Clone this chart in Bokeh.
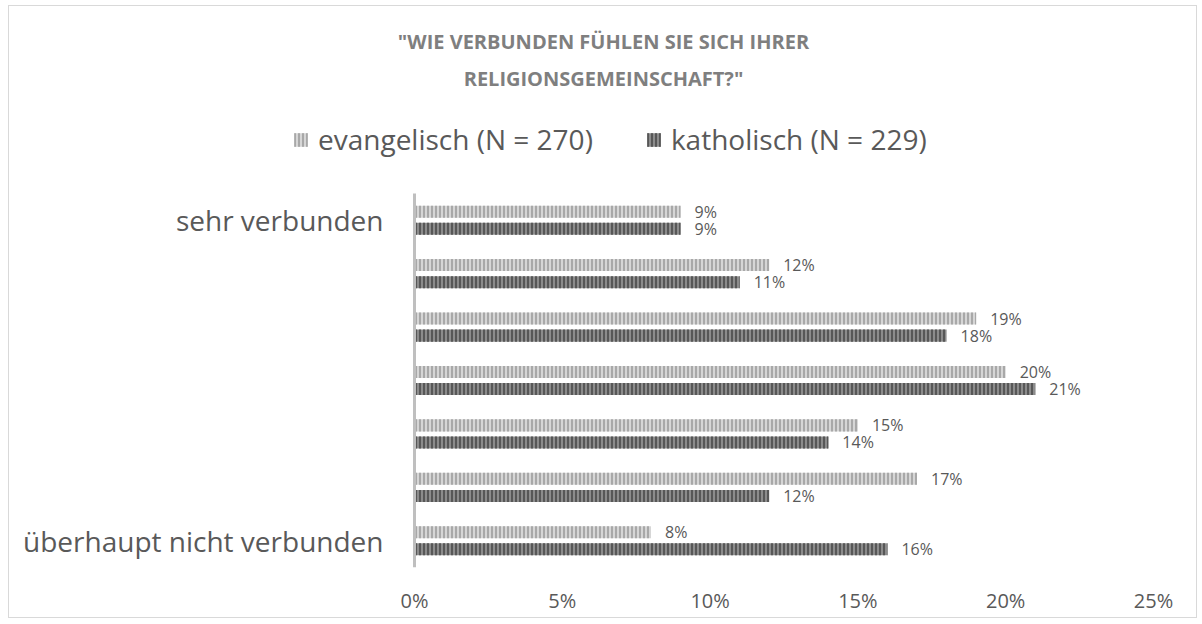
from bokeh.plotting import figure
from bokeh.models import (ColumnDataSource, Range1d, FixedTicker, PrintfTickFormatter,
                          Legend, LegendItem, Title)
from bokeh.transform import dodge
from bokeh.core.properties import value
from bokeh.embed import file_html
from bokeh.resources import INLINE

# ---- data ----
positions = [7, 6, 5, 4, 3, 2, 1]          # scale points, top to bottom
position_labels = {7: "sehr verbunden", 1: "überhaupt nicht verbunden"}
evangelisch = [9, 12, 19, 20, 15, 17, 8]
katholisch = [9, 11, 18, 21, 14, 12, 16]
series_names = ["evangelisch (N = 270)", "katholisch (N = 229)"]
x_ticks = [0, 5, 10, 15, 20, 25]
title_lines = ['"WIE VERBUNDEN FÜHLEN SIE SICH IHRER', 'RELIGIONSGEMEINSCHAFT?"']

FONT = "Open Sans"
TXT = "#595959"

# ---- layout (page pixels) ----
OX, OY = 9, 6                      # content origin (margin + 1px border)
W, H = 1189, 613
FRAME_LEFT = 6 - OX + 6            # frame left edge relative to canvas
FRAME_TOP, FRAME_BOTTOM = 100 - OY, 567 - OY
CAT_TOP = 193 - OY
ZERO_X, MAX_X = 414 - OX, 1153 - OX
x_max = max(x_ticks)
px_per_unit_x = (MAX_X - ZERO_X) / x_max
frame_right = 2 * (603 - OX) - FRAME_LEFT   # keep frame centred on the title centre
x_start = -(ZERO_X - FRAME_LEFT) / px_per_unit_x
x_end = (frame_right - ZERO_X) / px_per_unit_x
y_lo = min(positions) - 0.5
y_hi_cat = max(positions) + 0.5
px_per_unit_y = (FRAME_BOTTOM - CAT_TOP) / (y_hi_cat - y_lo)
y_hi = y_lo + (FRAME_BOTTOM - FRAME_TOP) / px_per_unit_y

src = ColumnDataSource(dict(
    pos=positions,
    ev=evangelisch,
    ka=katholisch,
    ev_lbl=[f"{v}%" for v in evangelisch],
    ka_lbl=[f"{v}%" for v in katholisch],
))

p = figure(width=W, height=H, title=None,
           x_range=Range1d(x_start, x_end), y_range=Range1d(y_lo, y_hi),
           y_axis_location=None,
           output_backend="svg", toolbar_location=None,
           min_border_left=FRAME_LEFT, min_border_right=W - frame_right,
           min_border_bottom=H - FRAME_BOTTOM, min_border_top=FRAME_TOP)
p.styles = {"border": "1px solid #d9d9d9", "margin-left": "8px", "margin-top": "5px"}
p.outline_line_color = None
p.background_fill_color = "white"
p.border_fill_color = "white"
p.xgrid.grid_line_color = None
p.ygrid.grid_line_color = None

off = 0.16
bh = 0.225
r_ev = p.hbar(y=dodge("pos", off), right="ev", left=0, height=bh, source=src,
              fill_color="#d6d6d6", line_color=None,
              hatch_pattern="vertical_line", hatch_color="#a8a8a8",
              hatch_scale=4, hatch_weight=2)
r_ka = p.hbar(y=dodge("pos", -off), right="ka", left=0, height=bh, source=src,
              fill_color="#8c8c8c", line_color=None,
              hatch_pattern="vertical_line", hatch_color="#575757",
              hatch_scale=4, hatch_weight=2)

p.text(x="ev", y=dodge("pos", off), text="ev_lbl", source=src, x_offset=14,
       text_baseline="middle", text_align="left", text_font=value(FONT),
       text_font_size="16px", text_color=TXT)
p.text(x="ka", y=dodge("pos", -off), text="ka_lbl", source=src, x_offset=14,
       text_baseline="middle", text_align="left", text_font=value(FONT),
       text_font_size="16px", text_color=TXT)

# category axis: line at 0 spanning the category band, labels left of it
p.segment(x0=[0], y0=[y_lo], x1=[0], y1=[y_hi_cat], line_color="#bfbfbf", line_width=3)
p.text(x=[0] * len(position_labels), y=list(position_labels.keys()),
       text=list(position_labels.values()), x_offset=-31,
       text_align="right", text_baseline="middle", text_font=value(FONT),
       text_font_size="28px", text_color=TXT)

# x axis
p.xaxis.ticker = FixedTicker(ticks=x_ticks)
p.xaxis.formatter = PrintfTickFormatter(format="%d%%")
p.xaxis.axis_line_color = None
p.xaxis.major_tick_line_color = None
p.xaxis.minor_tick_line_color = None
p.xaxis.major_label_text_font = FONT
p.xaxis.major_label_text_font_size = "20px"
p.xaxis.major_label_text_color = TXT
p.xaxis.major_label_standoff = 13

legend = Legend(items=[LegendItem(label=series_names[0], renderers=[r_ev]),
                       LegendItem(label=series_names[1], renderers=[r_ka])],
                orientation="horizontal",
                location=(292 - OX - FRAME_LEFT, 409),
                label_text_font=FONT, label_text_font_size="28px",
                label_text_color=TXT, glyph_width=17, glyph_height=17,
                spacing=52, label_standoff=9, padding=0, margin=0,
                border_line_color=None, background_fill_alpha=0)
p.add_layout(legend, "center")

t2 = Title(text=title_lines[1], align="center", standoff=17,
           text_font=FONT, text_font_size="20px", text_font_style="bold",
           text_color="#7f7f7f")
t1 = Title(text=title_lines[0], align="center", standoff=0,
           text_font=FONT, text_font_size="20px", text_font_style="bold",
           text_color="#7f7f7f")
p.add_layout(t2, "above")
p.add_layout(t1, "above")

open("out.html", "w").write(file_html(p, INLINE))
